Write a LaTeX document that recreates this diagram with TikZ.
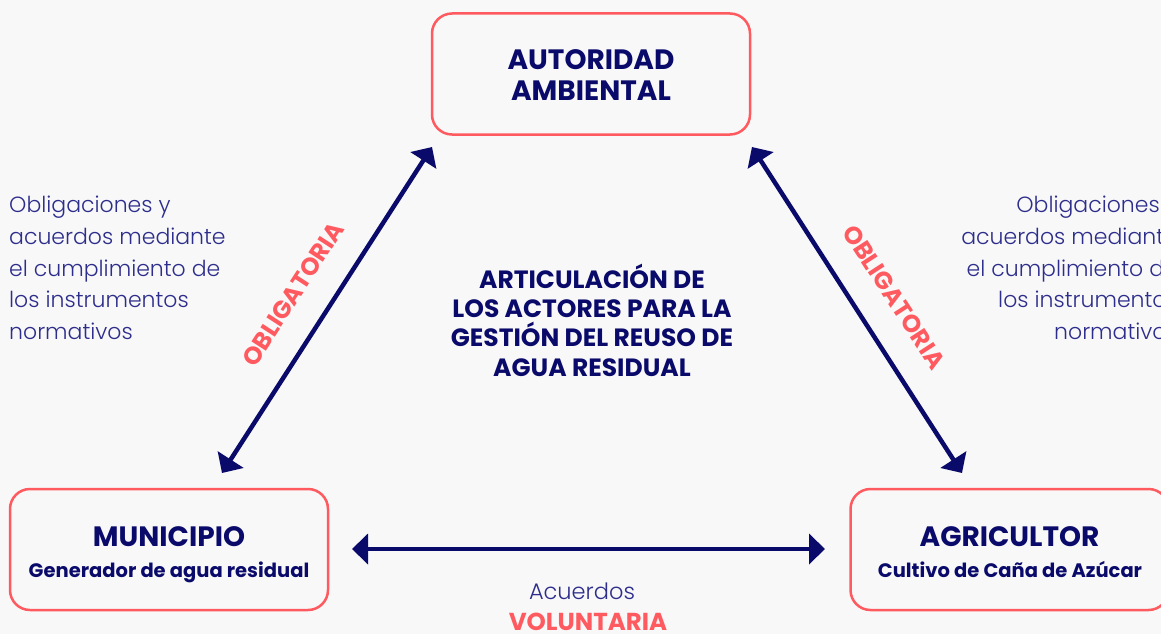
\documentclass[tikz,border=0pt]{standalone}
\usepackage{fontspec}
\setmainfont{Poppins}
\newfontfamily\lightfont{Poppins Light}
\usetikzlibrary{arrows.meta}
\definecolor{navy}{HTML}{0A0A6B}
\definecolor{coral}{HTML}{FF5A5F}
\definecolor{txtblue}{HTML}{2D2D8C}
\definecolor{bgc}{HTML}{F8F8F8}
\tikzset{
  actor/.style={draw=coral, line width=2.5pt, rounded corners=20pt, fill=bgc,
    minimum width=318pt, minimum height=121pt, inner sep=0pt},
  title/.style={font=\bfseries\fontsize{28}{30}\selectfont, text=navy, anchor=base, inner sep=0pt},
  subtitle/.style={font=\bfseries\fontsize{19.5}{22}\selectfont, text=navy, anchor=base, inner sep=0pt},
  link/.style={draw=navy, line width=4.5pt, {Triangle[length=16pt,width=30pt]}-{Triangle[length=16pt,width=30pt]}},
  sidetext/.style={font=\lightfont\fontsize{22}{31.7}\selectfont, text=txtblue, inner sep=0pt},
  tag/.style={font=\bfseries\fontsize{24.5}{26}\selectfont, text=coral, inner sep=0pt},
  center/.style={font=\bfseries\fontsize{25}{29.3}\selectfont, text=navy, align=center, inner sep=0pt}
}
\begin{document}
\begin{tikzpicture}[x=1pt,y=-1pt]
\useasboundingbox (0,0) rectangle (1161,634);
\fill[bgc] (0,0) rectangle (1161,634);

\node[actor] (aut) at (591,74) {};
\node[actor] (mun) at (169,549.5) {};
\node[actor] (agr) at (1009.5,549.5) {};

\node[title] (aut1) at (591,70) {AUTORIDAD};
\node[title] (aut2) at (591,100) {AMBIENTAL};
\node[title] (mun1) at (169,546) {MUNICIPIO};
\node[subtitle] (mun2) at (169,577) {Generador de agua residual};
\node[title] (agr1) at (1009.5,546) {AGRICULTOR};
\node[subtitle] (agr2) at (1010,577) {Cultivo de Caña de Azúcar};

\coordinate (la) at (222,473);
\coordinate (lb) at (432,147);
\coordinate (ra) at (752,147);
\coordinate (rb) at (962,473);
\coordinate (ha) at (352,549);
\coordinate (hb) at (825,549);
\draw[link] (la) -- (lb);
\draw[link] (ra) -- (rb);
\draw[link] (ha) -- (hb);

\node[tag, rotate=57] (ob1) at (293,294) {OBLIGATORIA};
\node[tag, rotate=-57] (ob2) at (894,297) {OBLIGATORIA};

\node[center] (mid) at (592,320) {ARTICULACIÓN DE\\LOS ACTORES PARA LA\\GESTIÓN DEL REUSO DE\\AGUA RESIDUAL};

\node[sidetext, align=left, anchor=north west] (lt) at (9,196) {Obligaciones y\\acuerdos mediante\\el cumplimiento de\\los instrumentos\\normativos};
\node[sidetext, align=right, anchor=north east] (rt) at (1178,196) {Obligaciones y\\acuerdos mediante\\el cumplimiento de\\los instrumentos\\normativos};

\node[sidetext, font=\lightfont\fontsize{22.5}{26}\selectfont, anchor=base] (acu) at (582,599) {Acuerdos};
\node[tag, anchor=base] (vol) at (588,630) {VOLUNTARIA};
\end{tikzpicture}
\end{document}
